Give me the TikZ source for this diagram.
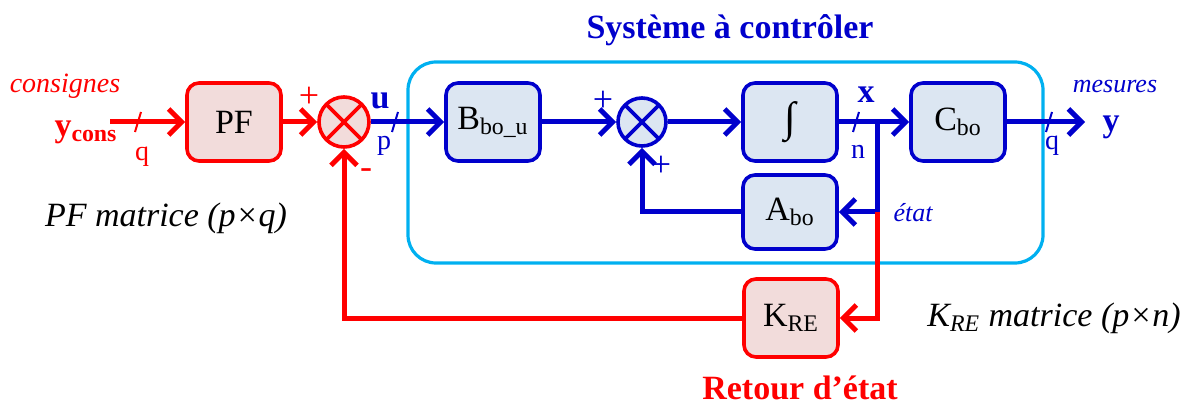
\documentclass[tikz,border=0pt]{standalone}
\usepackage{fontspec}
\setmainfont{Liberation Serif}
\usepackage{tikz}
\usetikzlibrary{arrows.meta,calc}

\definecolor{sysblue}{RGB}{0,0,204}
\definecolor{framecyan}{RGB}{0,176,240}
\definecolor{boxblue}{RGB}{220,230,242}
\definecolor{boxred}{RGB}{242,220,219}

\tikzset{
  bluebox/.style={draw=sysblue, fill=boxblue, line width=1.8pt,
    rounded corners=6pt, minimum width=47pt, minimum height=39pt,
    inner sep=1pt, font=\fontsize{17}{18}\selectfont},
  redbox/.style={bluebox, draw=red, fill=boxred},
  bluesum/.style={circle, draw=sysblue, fill=boxblue, line width=1.8pt,
    minimum size=24pt, inner sep=0pt,
    path picture={\draw[sysblue, line width=1.8pt]
      (path picture bounding box.south west) -- (path picture bounding box.north east)
      (path picture bounding box.north west) -- (path picture bounding box.south east);}},
  redsum/.style={circle, draw=red, fill=boxred, line width=1.8pt,
    minimum size=25pt, inner sep=0pt,
    path picture={\draw[red, line width=1.8pt]
      (path picture bounding box.south west) -- (path picture bounding box.north east)
      (path picture bounding box.north west) -- (path picture bounding box.south east);}},
  bluesig/.style={draw=sysblue, line width=2.5pt},
  redsig/.style={draw=red, line width=2.5pt},
  dimlbl/.style={font=\fontsize{14}{14}\selectfont, inner sep=0pt},
  signlbl/.style={font=\fontsize{18}{18}\selectfont, inner sep=0pt}
}

\begin{document}
\begin{tikzpicture}[
  x=0.5pt, y=-0.5pt,
  >={Straight Barb[length=6.5pt,width=13pt]}
]
% 1 unit = 1 px of the 1183x406 layout, y pointing down
\useasboundingbox (0,0) rectangle (1183,406);

%% --- System frame and title ----------------------------------
\draw[framecyan, line width=1.6pt, rounded corners=14pt]
     (408,62) rectangle (1043,263);
\node[sysblue, font=\fontsize{17}{18}\selectfont\bfseries] (title)
     at (730,30) {Système à contrôler};

%% --- Blocks --------------------------------------------------
\node[redbox]  (pf)    at (234,122) {PF};
\node[redsum]  (sA)    at (344,122) {};
\node[bluebox] (bbou)  at (493,122) {B\textsubscript{bo\_u}};
\node[bluesum] (sB)    at (642,122) {};
\node[bluebox] (integ) at (790,122) {\fontsize{21}{21}\selectfont ∫};
\node[bluebox] (cbo)   at (958,122) {C\textsubscript{bo}};
\node[bluebox, minimum height=37pt] (abo) at (790,212) {A\textsubscript{bo}};
\node[redbox]  (kre)   at (791,318) {K\textsubscript{RE}};

%% --- Inputs / outputs ----------------------------------------
\node[red, font=\fontsize{14}{14}\selectfont\itshape] (cons) at (65,86) {consignes};
\node[red, font=\fontsize{17}{18}\selectfont\bfseries] (ycons) at (86,132)
     {y\textsubscript{cons}};
\coordinate (cin)    at (110,122);
\coordinate (yend)   at (1085,122);
\coordinate (branch) at (877,122);
\coordinate (etat)   at (877,212);
\node[sysblue, font=\fontsize{17}{18}\selectfont\bfseries] (yout) at (1111,127) {y};
\node[sysblue, font=\fontsize{13}{13}\selectfont\itshape] (mes) at (1115,87) {mesures};

%% --- Connectors ----------------------------------------------
\draw[redsig, ->]  (cin) -- (pf);
\draw[redsig, ->]  (pf) -- (sA);
\draw[bluesig, ->] (sA) -- (bbou);
\draw[bluesig, ->] (bbou) -- (sB);
\draw[bluesig, ->] (sB) -- (integ);
\draw[bluesig, ->] (integ) -- (cbo);
\draw[bluesig, ->] (cbo) -- (yend);
\draw[bluesig, ->] (branch) |- (abo.east);
\draw[bluesig, ->] (abo.west) -| (sB.south);
\draw[redsig, ->]  (etat) |- (kre.east);
\draw[redsig, ->]  (kre.west) -| (sA.south);

%% --- Bus width marks -----------------------------------------
\foreach \x/\col in {138/red, 395/sysblue, 856/sysblue, 1049/sysblue}{
  \draw[\col, line width=1pt] (\x-3,132) -- (\x+3,112);
}
\node[dimlbl, red]     (nq)  at (142,157) {q};
\node[dimlbl, sysblue] (np)  at (384,146) {p};
\node[dimlbl, sysblue] (nn)  at (858,152) {n};
\node[dimlbl, sysblue] (nq2) at (1052,146) {q};

%% --- Signal names and signs ----------------------------------
\node[sysblue, font=\fontsize{17}{18}\selectfont\bfseries] (uname) at (380,101) {u};
\node[sysblue, font=\fontsize{17}{18}\selectfont\bfseries] (xname) at (866,95) {x};
\node[sysblue, font=\fontsize{13}{13}\selectfont\itshape] (etatname) at (913,213) {état};
\node[signlbl, red]     (pA) at (309,97)  {+};
\node[signlbl, red]     (mA) at (366,174) {-};
\node[signlbl, sysblue] (pB) at (603,101) {+};
\node[signlbl, sysblue] (pC) at (661,166) {+};

%% --- Annotations ---------------------------------------------
\node[font=\fontsize{17}{18}\selectfont\itshape] (pfmat) at (166,218)
     {PF matrice (p×q)};
\node[font=\fontsize{17}{18}\selectfont\itshape] (kremat) at (1054,318)
     {K\textsubscript{RE} matrice (p×n)};
\node[red, font=\fontsize{17}{18}\selectfont\bfseries] (retour) at (800,388)
     {Retour d’état};

\end{tikzpicture}
\end{document}
